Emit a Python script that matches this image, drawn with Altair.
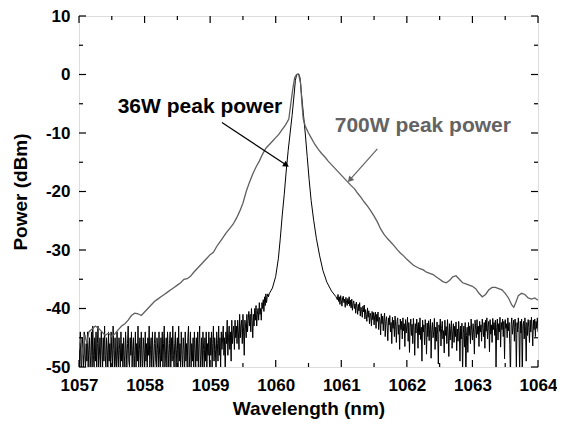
import altair as alt
import pandas as pd

# ---------------- data ----------------
# 36W peak power spectrum (black): noisy floor left, smooth peak, noisy floor right
black_step = 0.01
black_left_start = 1057.00
black_left_vals = [
    -46, -50, -44, -49, -51, -45, -47, -50, -44, -48, -50, -46, -49, -44, -50, -47, -45, -50, -48, -44,
    -50, -43, -48, -50, -45, -49, -44, -51, -46, -43, -50, -48, -45, -50, -44, -47, -50, -45, -49, -43,
    -48, -50, -45, -47, -51, -44, -49, -46, -50, -44, -48, -50, -43, -47, -50, -45, -49, -51, -44, -48,
    -50, -45, -47, -50, -44, -49, -46, -51, -45, -48, -50, -44, -47, -50, -46, -43, -49, -50, -45, -48,
    -44, -50, -47, -45, -51, -48, -44, -50, -46, -49, -43, -50, -47, -45, -50, -44, -48, -51, -45, -47,
    -50, -44, -49, -46, -50, -45, -48, -43, -50, -47, -45, -51, -44, -48, -50, -46, -44, -49, -50, -45,
    -47, -50, -44, -48, -51, -45, -49, -44, -50, -46, -43, -50, -48, -45, -50, -44, -47, -51, -46, -44,
    -50, -45, -49, -43, -48, -50, -46, -44, -51, -47, -45, -50, -43, -49, -46, -50, -44, -48, -50, -45,
    -47, -51, -44, -49, -46, -50, -45, -43, -50, -48, -44, -50, -46, -49, -45, -51, -44, -47, -50, -45,
    -49, -44, -50, -46, -43, -50, -48, -45, -51, -44, -47, -50, -45, -49, -44, -50, -46, -48, -44, -50,
    -45, -48, -44, -50, -46, -43, -49, -45, -47, -51, -44, -46, -49, -43, -48, -45, -50, -44, -47, -45,
    -43, -48, -45, -51, -44, -46, -42, -48, -45, -43, -47, -44, -49, -42, -46, -44, -43, -47, -42, -45,
    -43, -46, -42, -44, -47, -41, -45, -43, -42, -46, -41, -44, -48, -42, -43, -45, -41, -44, -42, -40.5,
    -43, -41, -44, -40, -42, -45, -41, -43, -40, -42, -39.5, -43, -41, -40, -42, -39, -41, -40, -42, -39,
    -40, -38.5, -40.5, -38, -39.5, -37.5, -39, -38, -37.5, -38,
]
black_peak_wl = [1059.90, 1059.95, 1060.00, 1060.04, 1060.07, 1060.10, 1060.13, 1060.16,
                 1060.19, 1060.22, 1060.25, 1060.28, 1060.30, 1060.32, 1060.35, 1060.37,
                 1060.39, 1060.42, 1060.45, 1060.48, 1060.51, 1060.54, 1060.58, 1060.62,
                 1060.67, 1060.72, 1060.78, 1060.85, 1060.92]
black_peak_vals = [-37.5, -36.5, -34.5, -31.5, -28, -24, -20.5, -16.5,
                   -13, -10, -7, -3.5, -1, 0, 0.1, -0.5,
                   -3, -6.5, -10, -14, -18, -21.5, -25, -28,
                   -31, -33.5, -35.5, -37, -38]
black_right_start = 1060.94
black_right_vals = [
    -38.5, -37.6, -38.8, -38, -39.3, -37.8, -38.6, -39.6, -38.2, -37.9, -39, -38.4, -39.8, -38.1, -38.9, -39.5, -38.3, -39.2, -38, -39.6,
    -38.6, -39.9, -38.4, -40.3, -39.1, -38.7, -40, -39.2, -40.8, -38.9, -39.7, -41, -39.3, -40.4, -39, -41.3, -39.8, -40.2, -41.5, -39.6,
    -40.6, -39.4, -41.8, -40.2, -41, -42.2, -39.9, -41.5, -40.4, -42.6, -40.8, -41.3, -43, -40.5, -41.9, -40.7, -42.8, -41.2, -40.6, -43.4,
    -41, -42.2, -40.6, -43.6, -41.5, -42, -44.5, -40.9, -42.6, -41.3, -43.8, -41.8, -40.8, -44.8, -42.2, -41.4, -43.2, -45.5, -41.6, -42.8,
    -41.2, -44, -42.4, -46, -41.5, -43.4, -42, -44.8, -41.3, -43, -45.8, -42.2, -41.6, -44.4, -42.8, -47, -41.8, -43.6, -42.2, -45.2,
    -41.6, -43.8, -42.6, -46.5, -41.9, -44.2, -43, -41.5, -45.6, -42.4, -47.5, -43.2, -41.8, -44.6, -42.7, -46, -41.7, -43.5, -48, -42.6,
    -44.2, -41.8, -43, -46.8, -42.4, -44.5, -41.6, -45.3, -43.2, -49, -42, -44, -42.8, -46.2, -41.9, -43.6, -47.8, -42.5, -44.8, -42.1,
    -45.5, -43, -41.8, -48.5, -43.6, -42.4, -45, -44, -41.7, -47, -43.2, -45.6, -42.3, -44.4, -49.5, -42.8, -43.9, -41.8, -46.4, -43.4,
    -42.2, -45.2, -43.8, -47.6, -42, -44.6, -43.1, -46, -41.9, -44.2, -48.2, -42.6, -45.4, -43.4, -42.1, -46.8, -44, -42.6, -45.8, -43,
    -44.8, -42.3, -47.2, -43.5, -45.6, -42.2, -44, -49, -43, -45.2, -42.5, -51, -44.2, -43, -46.6, -42.4, -52, -44.6, -43.2, -47.5,
    -42.4, -44.6, -43, -46, -41.8, -43.8, -45.4, -42.6, -44.2, -47.8, -42, -43.6, -45, -41.9, -44.4, -43, -46.5, -42.2, -44, -42.8,
    -45.6, -41.8, -43.4, -44.8, -42.4, -46.8, -42, -43.9, -41.6, -45.2, -43, -42.2, -47.4, -41.9, -44.4, -42.8, -45.8, -41.7, -43.6, -42.4,
    -44.6, -42, -50, -43.2, -41.8, -45.4, -42.6, -44, -41.5, -46.6, -42.4, -43.6, -41.8, -44.8, -42.2, -48.6, -41.9, -43.4, -42.6, -45,
    -41.6, -43.8, -42.4, -46.2, -52, -42.8, -41.6, -44.4, -43, -42, -45.6, -41.8, -43.2, -50.5, -42.4, -44, -41.6, -43.6, -51, -42.2,
    -44.2, -41.8, -52, -43, -42.2, -45.2, -41.6, -43.8, -49, -42.4, -44.6, -41.9, -43.2, -45.8, -42, -44, -41.5, -43.4, -46.4, -42,
    -43.6, -41.8, -44.8, -42.2, -43.4, -41.6, -44,
]

# 700W peak power spectrum (gray)
gray_wl = [1057.00, 1057.03, 1057.06, 1057.09, 1057.12, 1057.15, 1057.20, 1057.25, 1057.30,
           1057.35, 1057.40, 1057.45, 1057.50, 1057.55, 1057.60, 1057.65, 1057.70, 1057.75,
           1057.80, 1057.85, 1057.90, 1057.95, 1058.00, 1058.05, 1058.10, 1058.15, 1058.20,
           1058.25, 1058.30, 1058.35, 1058.40, 1058.45, 1058.50, 1058.55, 1058.60, 1058.65,
           1058.70, 1058.75, 1058.80, 1058.85, 1058.90, 1058.95, 1059.00, 1059.05, 1059.10,
           1059.15, 1059.20, 1059.25, 1059.30, 1059.35, 1059.40, 1059.45, 1059.50, 1059.55,
           1059.60, 1059.65, 1059.70, 1059.75, 1059.80, 1059.85, 1059.90, 1059.95, 1060.00,
           1060.05, 1060.10, 1060.15, 1060.20, 1060.23, 1060.26, 1060.29, 1060.32, 1060.35,
           1060.38, 1060.40, 1060.42, 1060.45, 1060.50, 1060.55, 1060.60, 1060.65, 1060.70,
           1060.75, 1060.80, 1060.85, 1060.90, 1060.95, 1061.00, 1061.05, 1061.10, 1061.15,
           1061.20, 1061.25, 1061.30, 1061.35, 1061.40, 1061.45, 1061.50, 1061.55, 1061.60,
           1061.65, 1061.70, 1061.75, 1061.80, 1061.85, 1061.90, 1061.95, 1062.00, 1062.05,
           1062.10, 1062.15, 1062.20, 1062.25, 1062.30, 1062.35, 1062.40, 1062.45, 1062.50,
           1062.55, 1062.60, 1062.65, 1062.70, 1062.75, 1062.80, 1062.85, 1062.90, 1062.95,
           1063.00, 1063.05, 1063.10, 1063.15, 1063.20, 1063.25, 1063.30, 1063.35, 1063.40,
           1063.45, 1063.50, 1063.55, 1063.60, 1063.63, 1063.66, 1063.70, 1063.75, 1063.80,
           1063.85, 1063.90, 1063.95, 1064.00]
gray_vals = [-47, -45, -48, -44.5, -46, -44, -43.5, -43, -43.4,
             -44, -44.6, -44.2, -44.8, -44.3, -43.6, -43, -42.6, -42,
             -41.2, -40.8, -40.9, -41.2, -40.6, -40, -39.4, -38.8, -38.4,
             -38, -37.6, -37.2, -36.8, -36.4, -36, -35.6, -35, -34.9,
             -34.5, -33.8, -33.2, -32.6, -32, -31.4, -30.8, -30.4, -29.4,
             -28.6, -27.8, -27, -26.3, -25.6, -24.6, -23.4, -22, -20,
             -18.4, -17, -15.8, -14.8, -13.6, -12.6, -12, -11.4, -10.8,
             -10.2, -9.4, -8.6, -7.6, -5, -2.5, -0.5, 0, 0,
             -1.5, -5, -7.6, -8.8, -10, -11, -12, -12.8, -13.5,
             -14.1, -14.8, -15.4, -16, -16.6, -17.2, -17.8, -18.4, -19,
             -19.5, -20.3, -21, -21.8, -22.5, -23.3, -24.2, -25.2, -26.4,
             -27.3, -28, -28.6, -29.2, -29.9, -30.5, -31, -31.6, -32.1,
             -32.6, -32.9, -33.2, -33.4, -33.8, -34, -34.2, -34.6, -35,
             -35.4, -35.6, -35.2, -34.6, -34.4, -35, -35.6, -35.8, -36,
             -36.2, -36.6, -37.4, -38, -37.6, -36.8, -36.4, -36.4, -36.6,
             -36.8, -37.4, -38.2, -39.4, -39.8, -39, -37.8, -37.4, -37.6,
             -38.2, -38.4, -38.2, -38.6]

x_ticks_major = [1057, 1058, 1059, 1060, 1061, 1062, 1063, 1064]
x_ticks_minor = [1057.5, 1058.5, 1059.5, 1060.5, 1061.5, 1062.5, 1063.5]
y_ticks_major = [-50, -40, -30, -20, -10, 0, 10]
y_ticks_minor = [-45, -35, -25, -15, -5, 5]

labels = ["36W peak power", "700W peak power"]
label_wl = [1057.59, 1060.90]
label_db = [-6.5, -9.8]
label_colors = ["#000000", "#636363"]

arrow_start_wl = [1059.18, 1061.55]
arrow_start_db = [-8.2, -12.7]
arrow_end_wl = [1060.15, 1061.14]
arrow_end_db = [-15.4, -17.9]
arrow_angle = [123, 222]

# ---------------- build tables ----------------
black_wl = ([round(black_left_start + i * black_step, 3) for i in range(len(black_left_vals))]
            + black_peak_wl
            + [round(black_right_start + i * black_step, 3) for i in range(len(black_right_vals))])
black_db = black_left_vals + black_peak_vals + black_right_vals
black_df = pd.DataFrame({"wl": black_wl, "db": black_db})
gray_df = pd.DataFrame({"wl": gray_wl, "db": gray_vals})

W, H = 459, 351
FONT = "Liberation Sans"

xs = alt.Scale(domain=[1057, 1064], nice=False, zero=False)
ys = alt.Scale(domain=[-50, 10], nice=False, zero=False)

x_axis = alt.Axis(values=x_ticks_major, ticks=False, domain=False, grid=False,
                  labelFlush=False, labelOverlap=False,
                  labelFontSize=17, labelFontWeight="bold", labelFont=FONT, labelColor="black",
                  labelPadding=10, labelExpr="'' + datum.value",
                  title="Wavelength (nm)", titleFontSize=19, titleFont=FONT,
                  titleFontWeight="bold", titleColor="black", titlePadding=6)
y_axis = alt.Axis(values=y_ticks_major, ticks=False, domain=False, grid=False,
                  labelFlush=False, labelOverlap=False,
                  labelFontSize=17, labelFontWeight="bold", labelFont=FONT, labelColor="black",
                  labelPadding=9, labelExpr="'' + datum.value",
                  title="Power (dBm)", titleFontSize=19, titleFont=FONT,
                  titleFontWeight="bold", titleColor="black", titlePadding=15)

black_line = alt.Chart(black_df).mark_line(color="black", strokeWidth=1, clip=True).encode(
    x=alt.X("wl:Q", scale=xs, axis=x_axis),
    y=alt.Y("db:Q", scale=ys, axis=y_axis),
)
gray_line = alt.Chart(gray_df).mark_line(color="#5f5f5f", strokeWidth=1.3, clip=True).encode(
    x=alt.X("wl:Q", scale=xs),
    y=alt.Y("db:Q", scale=ys),
)

# inward ticks on all four sides
xmaj = pd.DataFrame({"v": x_ticks_major})
xmin = pd.DataFrame({"v": x_ticks_minor})
ymaj = pd.DataFrame({"v": y_ticks_major})
ymin = pd.DataFrame({"v": y_ticks_minor})

def xtick(df, length):
    bottom = alt.Chart(df).mark_rule(color="black", strokeWidth=1.2).encode(
        x=alt.X("v:Q", scale=xs), y=alt.value(H), y2=alt.value(H - length))
    top = alt.Chart(df).mark_rule(color="black", strokeWidth=1.2).encode(
        x=alt.X("v:Q", scale=xs), y=alt.value(0), y2=alt.value(length))
    return [bottom, top]

def ytick(df, length):
    left = alt.Chart(df).mark_rule(color="black", strokeWidth=1.2).encode(
        y=alt.Y("v:Q", scale=ys), x=alt.value(0), x2=alt.value(length))
    right = alt.Chart(df).mark_rule(color="black", strokeWidth=1.2).encode(
        y=alt.Y("v:Q", scale=ys), x=alt.value(W), x2=alt.value(W - length))
    return [left, right]

ticks = xtick(xmaj, 7) + xtick(xmin, 4) + ytick(ymaj, 7) + ytick(ymin, 4)

ann_df = pd.DataFrame({"label": labels, "wl": label_wl, "db": label_db, "color": label_colors})
ann = alt.Chart(ann_df).mark_text(align="left", baseline="alphabetic", fontSize=21,
                                  font=FONT, fontWeight="bold").encode(
    x=alt.X("wl:Q", scale=xs), y=alt.Y("db:Q", scale=ys),
    text="label:N", color=alt.Color("color:N", scale=None),
)

arr_df = pd.DataFrame({"x1": arrow_start_wl, "y1": arrow_start_db,
                       "x2": arrow_end_wl, "y2": arrow_end_db,
                       "angle": arrow_angle, "color": label_colors})
arrow_lines = alt.Chart(arr_df).mark_rule(strokeWidth=1.2).encode(
    x=alt.X("x1:Q", scale=xs), y=alt.Y("y1:Q", scale=ys),
    x2="x2:Q", y2="y2:Q", color=alt.Color("color:N", scale=None),
)
arrow_heads = alt.Chart(arr_df).mark_point(shape="triangle", filled=True, size=45, opacity=1).encode(
    x=alt.X("x2:Q", scale=xs), y=alt.Y("y2:Q", scale=ys),
    angle=alt.Angle("angle:Q", scale=None), color=alt.Color("color:N", scale=None),
)

chart = alt.layer(black_line, gray_line, *ticks, arrow_lines, arrow_heads, ann).properties(
    width=W, height=H,
    autosize=alt.AutoSizeParams(type="none"),
    padding={"left": 71, "top": 8, "right": 19, "bottom": 54},
).configure_view(stroke="black", strokeWidth=1.5).configure(background="white")

chart.save("out.html", embed_options={"renderer": "svg", "actions": False})
